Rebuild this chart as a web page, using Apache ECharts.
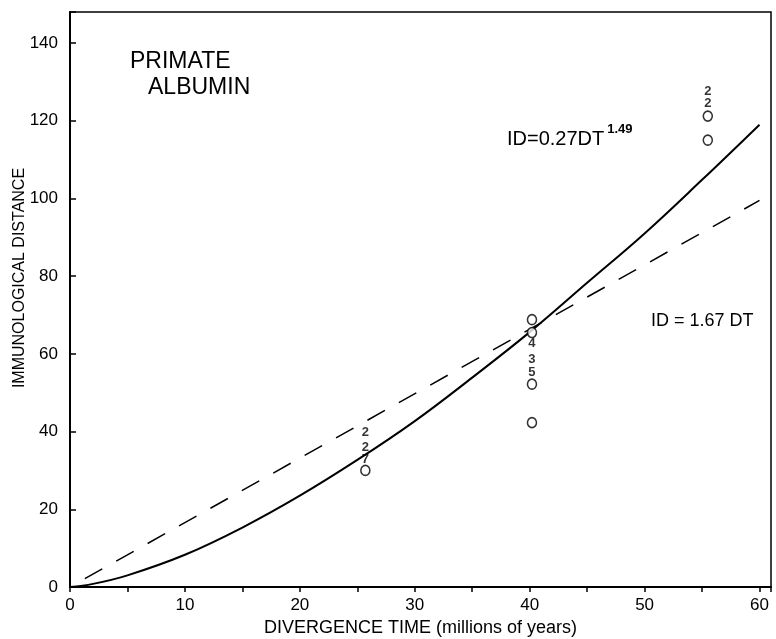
<!DOCTYPE html>
<html>
<head>
<meta charset="utf-8">
<script src="https://cdn.jsdelivr.net/npm/echarts@6/dist/echarts.min.js"></script>
<style>
html,body{margin:0;padding:0;background:#fff;}
#chart{width:776px;height:639px;}
</style>
</head>
<body>
<div id="chart"></div>
<script>
// Power fit ID = 0.27 DT^1.49
const powerX = [0, 2, 5, 10, 15, 20, 25, 30, 35, 40, 45, 50, 55, 60];
const powerY = [0, 0.8, 3.0, 8.3, 15.3, 23.5, 32.7, 42.7, 53.9, 65.6, 78.3, 91.0, 104.8, 119.0];
// Linear fit ID = 1.67 DT
const linearX = [0, 60];
const linearY = [0, 99.5];
// Open circles
const circleX = [25.7, 40.2, 40.2, 40.2, 40.2, 55.5, 55.5];
const circleY = [30.0, 68.8, 65.5, 52.2, 42.3, 121.2, 115.0];
// Stacked count digits
const digitX = [25.7, 25.7, 25.7, 40.2, 40.2, 40.2, 55.5, 55.5];
const digitY = [32.8, 36.0, 39.7, 62.8, 58.5, 55.3, 124.5, 127.5];
const digitText = ['7', '2', '2', '4', '3', '5', '2', '2'];
// Axes
const xTicks = [0, 10, 20, 30, 40, 50, 60];
const yTicks = [0, 20, 40, 60, 80, 100, 120, 140];

const FONT = '"Liberation Sans", "DejaVu Sans", sans-serif';
const chart = echarts.init(document.getElementById('chart'));

chart.setOption({
  animation: false,
  backgroundColor: '#fff',
  grid: {left: 70, right: 5, top: 12, bottom: 52, containLabel: false, outerBoundsMode: 'none',
    show: true, borderColor: '#000', borderWidth: 1.5, backgroundColor: 'transparent'},
  xAxis: {
    type: 'value', min: 0, max: 61, interval: 5,
    name: 'DIVERGENCE TIME (millions of years)', nameLocation: 'middle', nameGap: 31,
    nameTextStyle: {fontFamily: FONT, fontSize: 18, color: '#000'},
    axisLine: {show: true, lineStyle: {color: '#000', width: 2}},
    axisTick: {show: true, inside: false, length: 5, lineStyle: {color: '#000', width: 1.5}},
    axisLabel: {fontFamily: FONT, fontSize: 17, color: '#000', margin: 10,
      formatter: v => xTicks.indexOf(v) >= 0 ? String(v) : ''},
    splitLine: {show: false}
  },
  yAxis: {
    type: 'value', min: 0, max: 148, interval: 20,
    axisLine: {show: true, lineStyle: {color: '#000', width: 2}},
    axisTick: {show: true, inside: true, length: 6, lineStyle: {color: '#000', width: 1.5}},
    axisLabel: {fontFamily: FONT, fontSize: 17, color: '#000', margin: 12,
      formatter: v => yTicks.indexOf(v) >= 0 ? String(v) : ''},
    splitLine: {show: false}
  },
  graphic: [
    {type: 'text', left: 130, top: 50, style: {text: 'PRIMATE', font: '23px ' + FONT, fill: '#000'}},
    {type: 'text', left: 148, top: 76, style: {text: 'ALBUMIN', font: '23px ' + FONT, fill: '#000'}},
    {type: 'text', left: 507, top: 123, style: {
      text: '{a|ID=0.27DT}{b|1.49}',
      rich: {
        a: {fontFamily: FONT, fontSize: 20, color: '#000', padding: [10, 0, 0, 0]},
        b: {fontFamily: FONT, fontSize: 13, fontWeight: 'bold', color: '#000', padding: [0, 0, 10, 3]}
      }
    }},
    {type: 'text', left: 651, top: 312, style: {text: 'ID = 1.67 DT', font: '18px ' + FONT, fill: '#000'}},
    {type: 'text', x: 20, y: 278, rotation: Math.PI / 2, style: {
      text: 'IMMUNOLOGICAL DISTANCE', font: '16px ' + FONT, fill: '#000', align: 'center', verticalAlign: 'middle'}}
  ],
  series: [
    {
      type: 'line', data: powerX.map((x, i) => [x, powerY[i]]), smooth: 0.4,
      symbol: 'none', lineStyle: {color: '#000', width: 2}, z: 3
    },
    {
      type: 'line', data: linearX.map((x, i) => [x, linearY[i]]),
      symbol: 'none', lineStyle: {color: '#000', width: 1.5, type: [20, 16], dashOffset: -17}, z: 3
    },
    {
      type: 'scatter', data: circleX.map((x, i) => [x, circleY[i]]),
      symbol: 'circle', symbolSize: [9, 10],
      itemStyle: {color: '#fff', borderColor: '#000', borderWidth: 1.6}, z: 5
    },
    {
      type: 'scatter', data: digitX.map((x, i) => [x, digitY[i], digitText[i]]),
      symbol: 'circle', symbolSize: 1, itemStyle: {color: 'transparent'},
      label: {show: true, position: 'inside', formatter: p => p.data[2],
        fontFamily: FONT, fontSize: 13, fontWeight: 'bold', color: '#000'}, z: 5
    }
  ]
});
</script>
</body>
</html>
